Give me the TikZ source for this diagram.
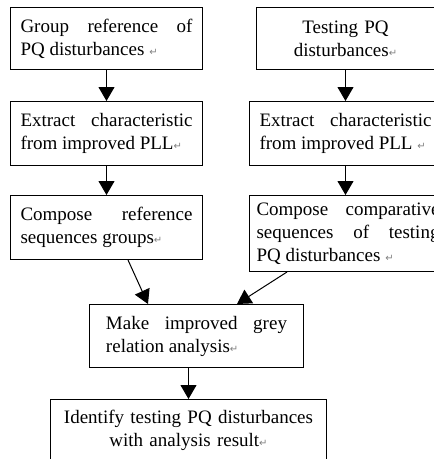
\documentclass[tikz,border=0pt]{standalone}
\usepackage{fontspec}
\setmainfont{Liberation Serif}
\newfontfamily\markfont{DejaVu Sans}
\usetikzlibrary{
  arrows.meta,
  positioning
}
\hyphenpenalty=10000
\exhyphenpenalty=10000
\newcommand\retmark{{\markfont\fontsize{10}{10}\selectfont\color{gray}↵}}
\tikzset{
  stepbox/.style={
    draw,
    line width=1pt,
    inner xsep=10pt,
    inner ysep=0pt,
    align=justify,
    font=\fontsize{19}{23}\selectfont
  },
  flow/.style={
    -{Triangle[width=16pt,length=14pt]},
    line width=1pt
  }
}

\begin{document}
\begin{tikzpicture}[x=1pt,y=-1pt]

  \clip (0,0) rectangle (434,459);

  % left column: reference disturbances
  \node[
    stepbox,
    anchor=north west,
    text width=172pt,
    minimum height=62pt
  ] (groupRef) at (10,7) {
    Group reference of\linebreak PQ disturbances \retmark
  };

  \node[
    stepbox,
    text width=172pt,
    minimum height=64pt,
    below=31pt of groupRef
  ] (extractRef) {
    Extract characteristic\linebreak from improved PLL\retmark
  };

  \node[
    stepbox,
    text width=172pt,
    minimum height=64pt,
    below=29pt of extractRef
  ] (composeRef) {
    Compose reference\linebreak sequences groups\retmark
  };

  % right column: testing disturbances
  \node[
    stepbox,
    anchor=north west,
    align=center,
    text width=158pt,
    minimum height=62pt
  ] (testing) at (256,7) {
    Testing PQ\\ disturbances\retmark
  };

  \node[
    stepbox,
    text width=172pt,
    minimum height=64pt,
    below=31pt of testing
  ] (extractTest) {
    Extract characteristic\linebreak from improved PLL \retmark
  };

  \node[
    stepbox,
    inner xsep=7pt,
    text width=183pt,
    minimum height=76pt,
    below=29pt of extractTest.south west,
    anchor=north west
  ] (composeTest) {
    Compose comparative\linebreak sequences of testing\linebreak PQ disturbances \retmark
  };

  % joint steps
  \node[
    stepbox,
    anchor=north west,
    inner xsep=16.5pt,
    text width=181pt,
    minimum height=63pt
  ] (grey) at (89,304) {
    Make improved grey\linebreak relation analysis\retmark
  };

  \node[
    stepbox,
    anchor=north west,
    align=center,
    text width=256pt,
    minimum height=62pt
  ] (identify) at (50,399) {
    Identify testing PQ disturbances\\ with analysis result\retmark
  };

  \draw[flow] (groupRef) -- (extractRef);
  \draw[flow] (extractRef) -- (composeRef);
  \draw[flow] (testing) -- (extractTest);
  \draw[flow] (extractTest.south) -- (extractTest.south |- composeTest.north);

  \draw[flow]
  ([xshift=118pt]composeRef.south west) --
  ([xshift=59pt]grey.north west);

  \draw[flow]
  ([xshift=38pt]composeTest.south west) --
  ([xshift=148pt]grey.north west);

  \draw[flow] (grey.south -| identify.north) -- (identify.north);

\end{tikzpicture}
\end{document}
